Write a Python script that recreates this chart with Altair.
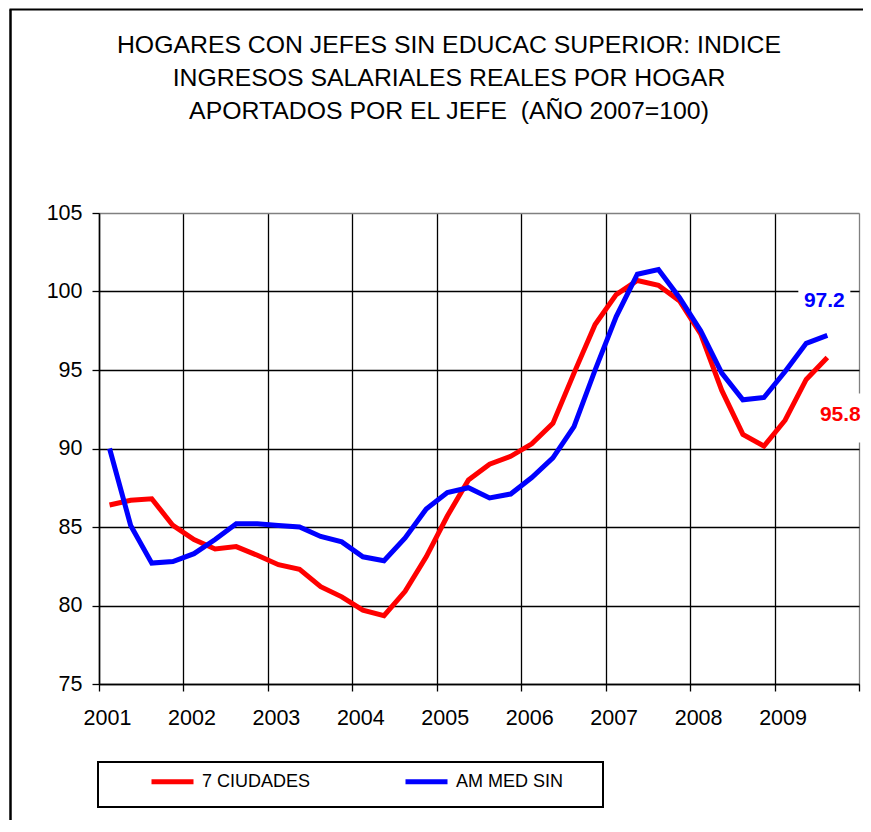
import altair as alt
import pandas as pd

# ---- data ----
anios = list(range(2001, 2010))
trimestres = [(a, t) for a in anios for t in range(1, 5)][:35]   # 2001-T1 ... 2009-T3
series = ["7 CIUDADES", "AM MED SIN"]
colores = ["#FF0000", "#0000FF"]

siete_ciudades = [86.4, 86.7, 86.8, 85.1,
                  84.2, 83.6, 83.75, 83.2,
                  82.6, 82.3, 81.2, 80.55,
                  79.7, 79.35, 80.9, 83.1,
                  85.7, 88.0, 89.0, 89.5,
                  90.3, 91.6, 94.8, 97.9,
                  99.8, 100.7, 100.4, 99.4,
                  97.3, 93.7, 90.9, 90.15,
                  91.8, 94.4, 95.8]
am_med_sin = [90.0, 85.1, 82.7, 82.8,
              83.3, 84.2, 85.2, 85.2,
              85.1, 85.0, 84.4, 84.05,
              83.1, 82.85, 84.3, 86.15,
              87.2, 87.5, 86.85, 87.1,
              88.15, 89.4, 91.4, 95.0,
              98.4, 101.1, 101.4, 99.6,
              97.5, 94.8, 93.1, 93.25,
              94.9, 96.7, 97.2]

titulo = ["HOGARES CON JEFES SIN EDUCAC SUPERIOR: INDICE",
          "INGRESOS SALARIALES REALES POR HOGAR",
          "APORTADOS POR EL JEFE\u00a0 (AÑO 2007=100)"]

# quarter mid-points on a continuous year axis
xs = [a + (t - 0.5) / 4 for a, t in trimestres]

df = pd.DataFrame({
    "x": xs * 2,
    "serie": [series[0]] * len(xs) + [series[1]] * len(xs),
    "valor": siete_ciudades + am_med_sin,
})
ult = pd.DataFrame({"x": [xs[-1], xs[-1]],
                    "serie": series,
                    "valor": [siete_ciudades[-1], am_med_sin[-1]]})
uno = pd.DataFrame({"k": [0]})

FONT = "Liberation Sans"

x_scale = alt.Scale(domain=[2001, 2010], nice=False, zero=False)
y_scale = alt.Scale(domain=[75, 105], nice=False, zero=False)

x_axis = alt.Axis(values=list(range(2001, 2011)),
                  labelExpr="datum.value == 2010 ? '' : datum.value",
                  title=None, grid=True,
                  gridColor={"condition": {"test": "datum.value == 2010", "value": "#808080"}, "value": "black"},
                  gridWidth=1.3, domainColor="black", domainWidth=1.5,
                  tickColor="black", tickSize=7, tickWidth=1.3,
                  labelFont=FONT, labelFontSize=21.5, labelColor="black",
                  labelPadding=16, labelOffset=8, labelFlush=False)
y_axis = alt.Axis(values=[75, 80, 85, 90, 95, 100, 105], title=None, grid=True,
                  gridColor={"condition": {"test": "datum.value == 105", "value": "#808080"}, "value": "black"},
                  gridWidth=1.3, domainColor="black", domainWidth=1.5,
                  tickColor="black", tickSize=7, tickWidth=1.3,
                  labelFont=FONT, labelFontSize=21.5, labelColor="black",
                  labelPadding=10)

# decorative outer frame (top and left edges visible) and legend box
marco_sup = alt.Chart(uno).mark_rule(color="black", strokeWidth=2).encode(
    x=alt.value(-89.5), x2=alt.value(764), y=alt.value(-203.5))
marco_izq = alt.Chart(uno).mark_rule(color="black", strokeWidth=2.5).encode(
    x=alt.value(-88.5), y=alt.value(-203.5), y2=alt.value(700))
caja = alt.Chart(uno).mark_rect(fillOpacity=0, stroke="black", strokeWidth=2).encode(
    x=alt.value(-1), x2=alt.value(504), y=alt.value(549), y2=alt.value(594))

# chart title (three centred lines)
encabezado = alt.Chart(uno).mark_text(
    text=titulo, font=FONT, fontSize=24.8, lineHeight=33, color="black",
    align="center", baseline="alphabetic").encode(x=alt.value(350), y=alt.value(-160))

lineas = alt.Chart(df).mark_line(strokeWidth=5).encode(
    x=alt.X("x:Q", scale=x_scale, axis=x_axis),
    y=alt.Y("valor:Q", scale=y_scale, axis=y_axis),
    color=alt.Color("serie:N", scale=alt.Scale(domain=series, range=colores),
                    sort=series,
                    legend=alt.Legend(orient="none", legendX=50, legendY=545,
                                      direction="horizontal", title=None,
                                      symbolType="stroke", symbolSize=1764,
                                      symbolStrokeWidth=5, labelFont=FONT,
                                      labelFontSize=18, labelColor="black", labelOffset=6,
                                      columnPadding=84, padding=0, labelLimit=400)),
)

RECT = "M-1,-0.94L1,-0.94L1,0.94L-1,0.94Z"

def etiqueta(nombre, color, dx, dy, bdy):
    base = alt.Chart(ult).transform_filter(alt.datum.serie == nombre)
    fondo = base.mark_point(shape=RECT, size=52 * 52, filled=True, fill="white",
                            opacity=1, strokeWidth=0, xOffset=dx, yOffset=bdy).encode(
        x=alt.X("x:Q", scale=x_scale), y=alt.Y("valor:Q", scale=y_scale))
    texto = base.mark_text(font=FONT, fontSize=21, fontWeight="bold", color=color,
                           align="center", baseline="middle", dx=dx, dy=dy).encode(
        x=alt.X("x:Q", scale=x_scale), y=alt.Y("valor:Q", scale=y_scale),
        text=alt.Text("valor:Q", format=".1f"))
    return fondo, texto

f_azul, t_azul = etiqueta("AM MED SIN", "#0000FF", -3, -34, -34)
f_rojo, t_rojo = etiqueta("7 CIUDADES", "#FF0000", 13, 58, 60.5)

chart = alt.layer(marco_sup, marco_izq, caja, encabezado, f_azul, f_rojo, lineas,
                  t_azul, t_rojo).properties(
    width=760, height=471,
    autosize=alt.AutoSizeParams(type="none"),
    padding={"left": 91, "top": 205, "right": 4, "bottom": 136},
).configure_view(stroke="#808080", strokeWidth=1.5).configure(background="white")

chart.save("out.html", embed_options={"renderer": "svg", "actions": False})
